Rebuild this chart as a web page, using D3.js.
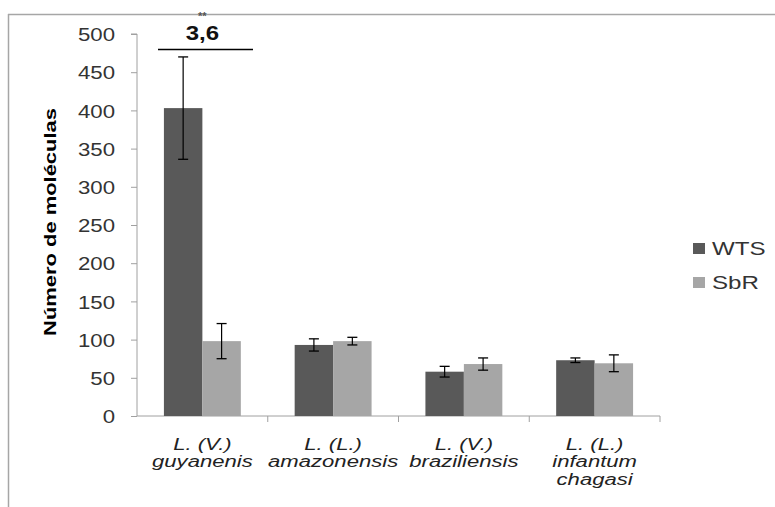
<!DOCTYPE html>
<html>
<head>
<meta charset="utf-8">
<script src="https://cdn.jsdelivr.net/npm/d3@7"></script>
<style>
  body { margin: 0; background: #fff; }
  svg { display: block; font-family: "Liberation Sans", Arial, sans-serif; }
</style>
</head>
<body>
<svg id="chart" width="775" height="507"></svg>
<script>
// categories (two / three line labels)
const categories = ["guyanenis", "amazonensis", "braziliensis", "infantum"];
const categoryLines = [
  ["L. (V.)", "guyanenis"],
  ["L. (L.)", "amazonensis"],
  ["L. (V.)", "braziliensis"],
  ["L. (L.)", "infantum", "chagasi"]
];
const seriesNames = ["WTS", "SbR"];
const wtsValues = [403, 93, 58, 73];
const wtsErrors = [67, 8, 7, 3];
const sbrValues = [98, 98, 68, 69];
const sbrErrors = [23, 5, 8, 11];
const yTicks = [0, 50, 100, 150, 200, 250, 300, 350, 400, 450, 500];
const colors = ["#595959", "#a6a6a6"];

const svg = d3.select("#chart");
const margin = { left: 137, right: 115, top: 34, bottom: 91 };
const W = 775, H = 507;

// outer frame (top + left only visible)
svg.append("line").attr("x1", 8).attr("x2", W).attr("y1", 14.5).attr("y2", 14.5)
  .attr("stroke", "#a6a6a6").attr("stroke-width", 1.5);
svg.append("line").attr("x1", 8.5).attr("x2", 8.5).attr("y1", 14).attr("y2", H)
  .attr("stroke", "#a6a6a6").attr("stroke-width", 1.5);

const x = d3.scaleBand().domain(categories).range([margin.left, W - margin.right]);
const y = d3.scaleLinear().domain([0, 500]).range([H - margin.bottom, margin.top]);

const inner = d3.scaleBand().domain(seriesNames)
  .range([0, x.bandwidth()]).paddingInner(0).paddingOuter(0.7);

// y axis
const yAxis = svg.append("g").attr("transform", `translate(${margin.left},0)`)
  .call(d3.axisLeft(y).tickValues(yTicks).tickSize(6));
yAxis.select(".domain").attr("stroke", "#a0a0a0").attr("d", `M-6,${y(500)}H0V${y(0)}`);
yAxis.selectAll(".tick line").attr("stroke", "#a0a0a0");
yAxis.selectAll(".tick text")
  .attr("x", 0).attr("dy", "0.35em")
  .attr("transform", "translate(-22,0) scale(1.17,1)")
  .attr("font-size", 19).attr("fill", "#333");

// x axis
const xAxis = svg.append("g").attr("transform", `translate(0,${y(0)})`);
xAxis.append("line").attr("x1", margin.left).attr("x2", W - margin.right)
  .attr("stroke", "#a0a0a0");
xAxis.selectAll("line.tk").data(categories).join("line")
  .attr("class", "tk")
  .attr("x1", d => x(d) + x.step())
  .attr("x2", d => x(d) + x.step())
  .attr("y1", 0).attr("y2", 6).attr("stroke", "#a0a0a0");

// category labels
categoryLines.forEach((lines, i) => {
  const cx = x(categories[i]) + x.bandwidth() / 2;
  lines.forEach((l, j) => svg.append("text")
    .attr("transform", `translate(${cx},${449.5 + j * 17.5}) scale(1.3,1)`)
    .attr("text-anchor", "middle")
    .attr("font-size", 17).attr("font-style", "italic").attr("fill", "#222")
    .text(l));
});

// y label
svg.append("text")
  .attr("transform", `translate(56,${y(250) - 3}) rotate(-90) scale(1.29,1)`)
  .attr("text-anchor", "middle")
  .attr("font-size", 17).attr("font-weight", "bold").attr("fill", "#000")
  .text("Número de moléculas");

// bars
const series = [
  { name: "WTS", values: wtsValues, errors: wtsErrors },
  { name: "SbR", values: sbrValues, errors: sbrErrors }
];
series.forEach((s, si) => {
  const g = svg.append("g");
  categories.forEach((c, i) => {
    const bx = x(c) + inner(s.name);
    g.append("rect")
      .attr("x", bx).attr("width", inner.bandwidth())
      .attr("y", y(s.values[i])).attr("height", y(0) - y(s.values[i]))
      .attr("fill", colors[si]);
    const cx = bx + inner.bandwidth() / 2;
    const hi = y(s.values[i] + s.errors[i]);
    const lo = y(s.values[i] - s.errors[i]);
    g.append("line").attr("x1", cx).attr("x2", cx).attr("y1", hi).attr("y2", lo)
      .attr("stroke", "#000").attr("stroke-width", 1.2);
    [hi, lo].forEach(yy => g.append("line")
      .attr("x1", cx - 5).attr("x2", cx + 5).attr("y1", yy).attr("y2", yy)
      .attr("stroke", "#000").attr("stroke-width", 1.3));
  });
});

// significance annotation
const gx = x(categories[0]) + x.bandwidth() / 2;
svg.append("line").attr("x1", 158).attr("x2", 253).attr("y1", 49.5).attr("y2", 49.5)
  .attr("stroke", "#000").attr("stroke-width", 1.5);
svg.append("text").attr("transform", `translate(${gx},40) scale(1.2,1)`)
  .attr("text-anchor", "middle")
  .attr("font-size", 20).attr("font-weight", "bold").attr("fill", "#111").text("3,6");
svg.append("text").attr("x", gx).attr("y", 20).attr("text-anchor", "middle")
  .attr("font-size", 11).attr("font-weight", "bold").attr("fill", "#555").text("**");

// legend
const legend = svg.append("g").attr("transform", "translate(693,243)");
seriesNames.forEach((n, i) => {
  legend.append("rect").attr("x", 0).attr("y", i * 34).attr("width", 12).attr("height", 11)
    .attr("fill", colors[i]);
  legend.append("text").attr("transform", `translate(19,${i * 34 + 12}) scale(1.27,1)`)
    .attr("font-size", 19).attr("fill", "#333").text(n);
});
</script>
</body>
</html>
